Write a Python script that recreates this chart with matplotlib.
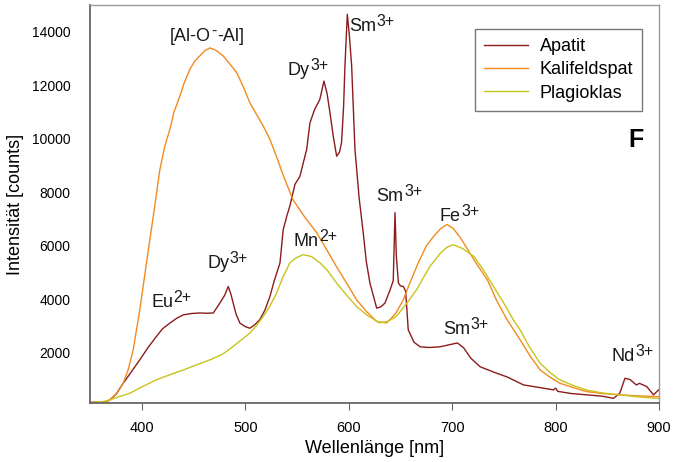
import numpy as np
import matplotlib.pyplot as plt

plt.rcParams['font.family'] = ['Liberation Sans', 'DejaVu Sans']

# Apatit
wl_apatit = [350, 360, 365, 369, 375, 382, 390, 398, 406, 414, 420, 427, 434, 440, 448, 456, 463,
             469, 475.4, 480, 483.5, 486, 488.3, 491, 494.8, 500, 504.4, 509, 514, 519, 523.8,
             528, 533.5, 536.6, 540, 543, 548, 552.8, 556, 559.3, 562.5, 567, 572, 576, 579,
             581.8, 585, 588.3, 591, 593, 595, 596.3, 598.6, 600.5, 602.8, 606, 610, 614, 617,
             620.5, 627, 631, 635, 640, 643, 644.7, 646, 648, 650, 652.8, 655, 657.5, 663, 669,
             678, 688, 697, 705, 711, 718, 727, 740, 753, 769, 785, 798, 800, 802, 815, 830,
             845, 856, 862, 867, 872, 878, 881, 888, 894.6, 899.5, 900]
int_apatit = [150, 150, 170, 240, 450, 865, 1300, 1740, 2200, 2610, 2900, 3110, 3300, 3420, 3470,
              3490, 3480, 3490, 3860, 4150, 4480, 4200, 3860, 3450, 3110, 2980, 2920, 3050, 3240,
              3600, 4110, 4700, 5360, 6600, 7100, 7480, 8300, 8600, 9100, 9600, 10600, 11100,
              11470, 12160, 11700, 10980, 10100, 9350, 9500, 9850, 11200, 12720, 14660, 13900,
              12720, 9600, 7800, 6480, 5400, 4600, 3670, 3720, 3860, 4360, 4700, 7240, 5600,
              4610, 4500, 4480, 4300, 2860, 2400, 2225, 2200, 2225, 2300, 2370, 2190, 1800, 1480,
              1280, 1100, 800, 700, 615, 680, 560, 480, 430, 380, 300, 490, 1050, 1000, 800, 860,
              740, 430, 615, 600]

# Kalifeldspat
wl_kali = [350, 360, 365, 369, 375, 382, 387, 391.6, 398, 404.5, 411, 417.4, 422, 427, 431,
           436.8, 441, 446.4, 451, 456, 461, 465.8, 472, 478.6, 485, 491.6, 498, 504.4, 511,
           517.3, 523.8, 530, 537, 546, 557, 569, 578, 588, 598, 607.6, 617, 627, 636.6, 645,
           652.7, 660, 667, 675, 682, 689, 695, 701, 708, 715, 724, 734, 743, 753, 765.6, 775,
           785, 795, 804, 817, 830, 845, 862, 880, 897.7, 900]
int_kali = [150, 150, 170, 240, 450, 865, 1400, 2110, 3610, 5370, 7100, 8850, 9700, 10350,
            11000, 11600, 12100, 12600, 12900, 13100, 13300, 13400, 13300, 13100, 12800, 12480,
            11950, 11350, 10900, 10480, 9980, 9350, 8600, 7730, 7100, 6490, 5900, 5230, 4600,
            3980, 3550, 3170, 3120, 3450, 3980, 4700, 5350, 6000, 6350, 6650, 6800, 6650, 6300,
            5860, 5300, 4730, 3950, 3240, 2490, 1900, 1360, 1080, 865, 700, 550, 480, 430, 390,
            365, 360]

# Plagioklas
wl_plag = [350, 360, 369, 378, 388.4, 400, 414, 427, 440, 453, 466, 478, 488.3, 496, 504.4,
           511, 517.3, 523.8, 530.3, 536, 543, 549, 556, 564, 572, 580, 588, 598, 607.6, 618,
           630, 638, 646, 656, 665.6, 672, 678.5, 688, 695, 701, 710, 721, 731, 740, 750, 759,
           765.6, 775, 785, 795, 804, 817, 830, 845, 862, 880, 897.7, 900]
int_plag = [150, 160, 240, 360, 490, 730, 990, 1180, 1360, 1550, 1740, 1950, 2240, 2480, 2740,
            3030, 3360, 3750, 4240, 4800, 5360, 5550, 5670, 5600, 5370, 5050, 4620, 4150, 3730,
            3400, 3120, 3180, 3360, 3850, 4360, 4800, 5230, 5700, 5950, 6040, 5900, 5600, 5050,
            4470, 3850, 3240, 2860, 2200, 1610, 1250, 990, 780, 610, 500, 430, 350, 300, 290]

xticks = [400, 500, 600, 700, 800, 900]
yticks = [2000, 4000, 6000, 8000, 10000, 12000, 14000]

# Beschriftungen der Banden: (Text, Hochstellung, Rest, x links, y Grundlinie)
labels = [
    ('[Al-O', '-', '-Al]', 427, 13660),
    ('Dy', '3+', '', 541, 12400),
    ('Sm', '3+', '', 600, 14020),
    ('Sm', '3+', '', 627, 7670),
    ('Fe', '3+', '', 688, 6920),
    ('Mn', '2+', '', 547, 6000),
    ('Dy', '3+', '', 463, 5170),
    ('Eu', '2+', '', 409, 3730),
    ('Sm', '3+', '', 691, 2710),
    ('Nd', '3+', '', 854, 1700),
]

fig = plt.figure(figsize=(6.83, 4.62), dpi=100)
ax = fig.add_axes([0.132, 0.128, 0.833, 0.861])

ax.plot(wl_apatit, int_apatit, color='#8b1c1c', lw=1.0, label='Apatit')
ax.plot(wl_kali, int_kali, color='#f28a1e', lw=1.0, label='Kalifeldspat')
ax.plot(wl_plag, int_plag, color='#c8c41c', lw=1.0, label='Plagioklas')

# Text + hochgestellter Teil, direkt aneinandergehängt
for base, sup, tail, x, y in labels:
    t1 = ax.text(x, y, base, fontsize=13, ha='left', va='baseline', color='#1a1a1a')
    t2 = ax.annotate(sup, xy=(1, y), xycoords=(t1, 'data'), xytext=(0.3, 3.5),
                     textcoords='offset points', fontsize=11.5, ha='left', va='baseline',
                     color='#1a1a1a')
    if tail:
        ax.annotate(tail, xy=(1, y), xycoords=(t2, 'data'), xytext=(0.3, 0),
                    textcoords='offset points', fontsize=13, ha='left', va='baseline',
                    color='#1a1a1a')

ax.text(870, 9950, 'F', fontsize=18, fontweight='bold', ha='left', va='center')

ax.set_xlim(350, 900)
ax.set_ylim(130, 15000)
ax.set_xticks(xticks)
ax.set_yticks(yticks)
ax.tick_params(axis='x', direction='out', length=5, color='#666666', labelsize=10.5, pad=8)
ax.tick_params(axis='y', length=0, labelsize=10, pad=14)
for s in ['left', 'bottom']:
    ax.spines[s].set_color('#666666')
    ax.spines[s].set_linewidth(1.3)
for s in ['top', 'right']:
    ax.spines[s].set_color('#999999')
    ax.spines[s].set_linewidth(1.0)

ax.set_xlabel('Wellenlänge [nm]', fontsize=13, labelpad=4)
ax.set_ylabel('Intensität [counts]', fontsize=13, labelpad=6)

leg = ax.legend(loc='upper right', bbox_to_anchor=(0.970, 0.94), borderaxespad=0,
                fontsize=13, fancybox=False, framealpha=1, edgecolor='#777777',
                handlelength=2.4, labelspacing=0.35, borderpad=0.5, handletextpad=0.65)

fig.savefig('out.png', dpi=100)
